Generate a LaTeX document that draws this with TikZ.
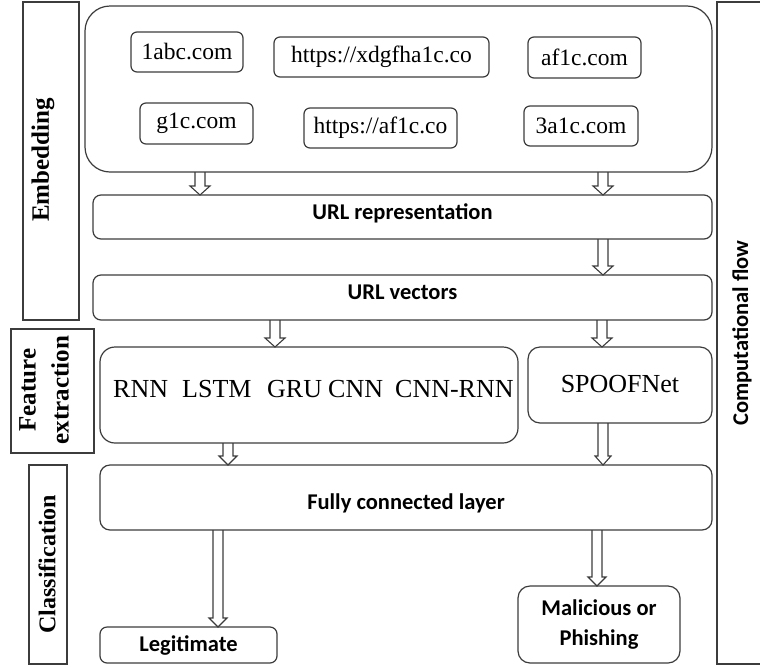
\documentclass[tikz,border=0pt]{standalone}
\usepackage{fontspec}
\setmainfont{Liberation Serif}
\newfontfamily\headsans{Carlito}
\usetikzlibrary{calc}
\definecolor{linegray}{HTML}{3C3C3C}
\tikzset{
  frame/.style={draw=linegray, line width=1.2pt, inner sep=0pt, outer sep=0pt},
  urlbox/.style={frame, rounded corners=6pt, font=\fontsize{23.5}{28}\selectfont},
  layerbox/.style={frame, rounded corners=8pt, font=\headsans\bfseries\fontsize{22.5}{30}\selectfont, align=center},
  stagebox/.style={frame, rotate=90},
  stagetext/.style={rotate=90, inner sep=0pt, font=\bfseries\fontsize{25}{33}\selectfont, align=center},
  modelword/.style={inner sep=0pt, anchor=base west, font=\fontsize{26}{30}\selectfont},
  % baseline placement: baseline sits (h-d)/2 below the node centre
  baseline at/.style={text height=#1, text depth=0pt},
  hollowarrow/.style={draw=linegray, line width=1.1pt, line join=miter},
}
% hollow block arrow: x position, start anchor, end anchor, head half-width
\newcommand\flowarrow[4]{%
  \draw[hollowarrow] let \p1=(#2), \p2=(#3) in
    ({(#1-5)*1pt},{\y1}) -- ({(#1-5)*1pt},{\y2+9pt}) -- ({(#1-#4)*1pt},{\y2+9pt})
    -- ({(#1)*1pt},{\y2}) -- ({(#1+#4)*1pt},{\y2+9pt}) -- ({(#1+5)*1pt},{\y2+9pt})
    -- ({(#1+5)*1pt},{\y1});}
\begin{document}
\begin{tikzpicture}[x=1pt,y=-1pt]
\useasboundingbox[fill=white] (0,0) rectangle (760,670);

% stage labels on the left
\node[stagebox, minimum width=318, minimum height=56] (stEmb) at (51,161) {};
\node[stagetext] (stEmbText) at (43,160) {Embedding};
\node[stagebox, minimum width=124, minimum height=83] (stFeat) at (52.5,391) {};
\node[stagetext] (stFeatText) at (44,390) {Feature\\extraction};
\node[stagebox, minimum width=199, minimum height=38] (stCls) at (48,564.5) {};
\node[stagetext, font=\bfseries\fontsize{24}{30}\selectfont] (stClsText) at (47,564) {Classification};

% overall flow label on the right
\node[frame, rotate=90, minimum width=662, minimum height=50,
      font=\headsans\bfseries\fontsize{22.5}{28}\selectfont] (flow) at (742,333) {Computational flow};

% embedding stage: raw URLs
\node[frame, rounded corners=25pt, minimum width=627, minimum height=166] (emb) at (398.5,89) {};
\node[urlbox, minimum width=112, minimum height=40] (u1) at (187,52) {1abc.com};
\node[urlbox, minimum width=215, minimum height=40] (u2) at (381.5,57) {https://xdgfha1c.co};
\node[urlbox, minimum width=113, minimum height=41] (u3) at (584.5,57.5) {af1c.com};
\node[urlbox, minimum width=113, minimum height=41] (u4) at (196.5,123.5) {g1c.com};
\node[urlbox, minimum width=153, minimum height=40] (u5) at (380.5,128) {https://af1c.co};
\node[urlbox, minimum width=114, minimum height=40] (u6) at (581,126) {3a1c.com};

\node[layerbox, baseline at=4pt, minimum width=619, minimum height=44] (rep) at (402.5,217) {URL representation};
\node[layerbox, baseline at=3pt, minimum width=619, minimum height=45] (vec) at (402.5,297.5) {URL vectors};

% feature extraction stage
\node[frame, rounded corners=15pt, minimum width=418, minimum height=96] (feat) at (309,395) {};
\node[modelword] (w1) at (113,397) {RNN};
\node[modelword] (w2) at (182,397) {LSTM};
\node[modelword] (w3) at (267,397) {GRU};
\node[modelword] (w4) at (328,397) {CNN};
\node[modelword] (w5) at (395,397) {CNN-RNN};
\node[frame, rounded corners=12pt, minimum width=184, minimum height=76, baseline at=14pt,
      font=\fontsize{26}{30}\selectfont] (spoof) at (620,385) {SPOOFNet};

% classification stage
\node[layerbox, rounded corners=10pt, baseline at=23pt, minimum width=612, minimum height=65] (fc) at (406,497.5) {Fully connected layer};
\node[layerbox, rounded corners=7pt, baseline at=12pt, minimum width=177, minimum height=36] (legit) at (188.5,645) {Legitimate};
\node[layerbox, rounded corners=12pt, minimum width=162, minimum height=77] (mal) at (599,624.5) {Malicious or\\Phishing};

% flow arrows
\flowarrow{200}{emb.south}{rep.north}{10}
\flowarrow{603}{emb.south}{rep.north}{10}
\flowarrow{603}{rep.south}{vec.north}{10}
\flowarrow{275}{vec.south}{feat.north}{10}
\flowarrow{602}{vec.south}{spoof.north}{10}
\flowarrow{228}{feat.south}{fc.north}{9}
\flowarrow{603}{spoof.south}{fc.north}{8}
\flowarrow{218}{fc.south}{legit.north}{9}
\flowarrow{597}{fc.south}{mal.north}{9}
\end{tikzpicture}
\end{document}
